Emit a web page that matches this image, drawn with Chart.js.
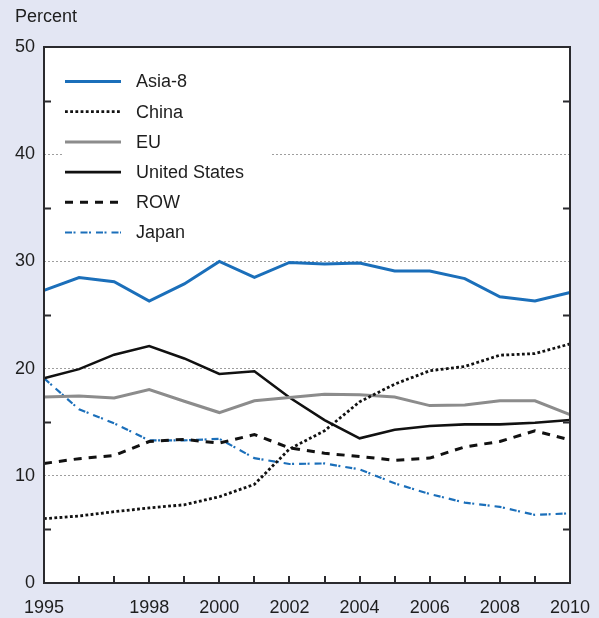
<!DOCTYPE html>
<html>
<head>
<meta charset="utf-8">
<script src="https://cdn.jsdelivr.net/npm/chart.js@4/dist/chart.umd.min.js"></script>
<style>
  html, body { margin: 0; padding: 0; background: #e3e6f3; overflow: hidden; }
  canvas { display: block; }
</style>
</head>
<body>
<canvas id="c" width="599" height="618"></canvas>
<script>
// Share of world output, percent, 1995–2010
const years = [1995, 1996, 1997, 1998, 1999, 2000, 2001, 2002, 2003, 2004, 2005, 2006, 2007, 2008, 2009, 2010];
const labeledYears = [1995, 1998, 2000, 2002, 2004, 2006, 2008, 2010];
const yTicks = [0, 10, 20, 30, 40, 50];

const asia8 = [27.3, 28.5, 28.1, 26.3, 27.9, 30.0, 28.5, 29.9, 29.75, 29.85, 29.1, 29.1, 28.4, 26.7, 26.3, 27.1];
const china = [6.0, 6.25, 6.65, 7.0, 7.3, 8.05, 9.2, 12.5, 14.2, 16.9, 18.55, 19.8, 20.2, 21.25, 21.4, 22.3];
const eu = [17.35, 17.45, 17.25, 18.05, 16.95, 15.9, 17.0, 17.3, 17.6, 17.55, 17.35, 16.55, 16.6, 17.0, 17.0, 15.7];
const unitedStates = [19.1, 19.95, 21.3, 22.1, 20.95, 19.5, 19.75, 17.3, 15.2, 13.5, 14.3, 14.65, 14.8, 14.8, 14.95, 15.2];
const row = [11.15, 11.6, 11.9, 13.2, 13.4, 13.05, 13.85, 12.6, 12.1, 11.8, 11.45, 11.65, 12.7, 13.2, 14.2, 13.35];
const japan = [19.1, 16.2, 14.9, 13.3, 13.3, 13.45, 11.65, 11.1, 11.15, 10.6, 9.3, 8.3, 7.5, 7.1, 6.35, 6.5];

const FONT = '"Liberation Sans", Arial, Helvetica, sans-serif';
const TEXT = '#1e1e1e';
const BLUE = '#1b6fba';

// Background, white plot panel, frame, inner minor ticks and the legend box
const decor = {
  id: 'decor',
  beforeDraw(chart) {
    const { ctx, chartArea: a } = chart;
    ctx.save();
    ctx.fillStyle = '#e3e6f3';
    ctx.fillRect(0, 0, chart.width, chart.height);
    ctx.fillStyle = '#ffffff';
    ctx.fillRect(a.left, a.top, a.right - a.left, a.bottom - a.top);
    ctx.fillStyle = TEXT;
    ctx.font = '18px ' + FONT;
    ctx.textBaseline = 'alphabetic';
    ctx.fillText('Percent', 15, 22);
    ctx.restore();
  },
  afterDraw(chart) {
    const { ctx, chartArea: a, scales } = chart;
    const x = scales.x, y = scales.y;
    ctx.save();
    ctx.strokeStyle = '#2a2a2e';
    ctx.lineWidth = 2;
    ctx.beginPath();
    // minor ticks on the y axis (both sides)
    for (let v = 5; v < 50; v += 10) {
      const py = Math.round(y.getPixelForValue(v)) + 0.5;
      ctx.moveTo(a.left, py); ctx.lineTo(a.left + 7, py);
      ctx.moveTo(a.right, py); ctx.lineTo(a.right - 7, py);
    }
    // yearly ticks along the bottom
    years.forEach((yr, i) => {
      const px = Math.round(x.getPixelForValue(i));
      ctx.moveTo(px, a.bottom); ctx.lineTo(px, a.bottom - 7);
    });
    ctx.stroke();
    // frame
    ctx.lineWidth = 2;
    ctx.strokeRect(a.left, a.top, a.right - a.left, a.bottom - a.top);

    // legend
    const lx = a.left + 18, tx = a.left + 92, ly0 = a.top + 34.5, step = 30.2;
    ctx.fillStyle = '#ffffff';
    ctx.fillRect(a.left + 18, a.top + 16, 210, 188);
    ctx.font = '18px ' + FONT;
    ctx.textBaseline = 'middle';
    chart.data.datasets.forEach((ds, i) => {
      const yy = ly0 + i * step;
      ctx.save();
      ctx.strokeStyle = ds.borderColor;
      ctx.lineWidth = ds.borderWidth;
      ctx.setLineDash(ds.borderDash || []);
      ctx.beginPath();
      ctx.moveTo(lx + 3, yy); ctx.lineTo(lx + 59, yy);
      ctx.stroke();
      ctx.restore();
      ctx.fillStyle = TEXT;
      ctx.fillText(ds.label, tx, yy + 1);
    });
    ctx.restore();
  }
};

const mk = (label, data, color, width, dash) => ({
  label, data, borderColor: color, borderWidth: width, borderDash: dash,
  pointRadius: 0, tension: 0, fill: false, borderCapStyle: 'butt'
});

new Chart(document.getElementById('c'), {
  type: 'line',
  data: {
    labels: years.map(String),
    datasets: [
      mk('Asia-8', asia8, BLUE, 3, []),
      mk('China', china, '#111111', 2.8, [2.8, 2.4]),
      mk('EU', eu, '#8c8c8c', 3, []),
      mk('United States', unitedStates, '#111111', 2.6, []),
      mk('ROW', row, '#111111', 3, [8, 7]),
      mk('Japan', japan, BLUE, 2.2, [7, 1.5, 2, 5])
    ]
  },
  options: {
    responsive: false,
    animation: false,
    devicePixelRatio: 1,
    layout: { padding: { top: 47, left: 0, right: 29, bottom: 0 } },
    plugins: { legend: { display: false }, title: { display: false }, tooltip: { enabled: false } },
    scales: {
      x: {
        type: 'category',
        offset: false,
        grid: { display: false, drawTicks: false },
        border: { display: false },
        afterFit(s) { s.height = 35; s.paddingLeft = 0; s.paddingRight = 0; },
        ticks: {
          autoSkip: false, maxRotation: 0, padding: 14,
          color: TEXT, font: { family: FONT, size: 18 },
          callback(v, i) { return labeledYears.includes(years[i]) ? String(years[i]) : ''; }
        }
      },
      y: {
        min: 0, max: 50,
        afterFit(s) { s.width = 44; s.paddingTop = 0; s.paddingBottom = 0; },
        afterBuildTicks(s) { s.ticks = yTicks.map(v => ({ value: v })); },
        grid: {
          drawTicks: false,
          lineWidth: 1,
          color(ctx) { const v = ctx.tick && ctx.tick.value; return (v > 0 && v < 50) ? '#9e9e9e' : 'rgba(0,0,0,0)'; }
        },
        border: { display: false, dash: [2, 2] },
        ticks: { autoSkip: false, padding: 9, color: TEXT, font: { family: FONT, size: 18 } }
      }
    }
  },
  plugins: [decor]
});
</script>
</body>
</html>
